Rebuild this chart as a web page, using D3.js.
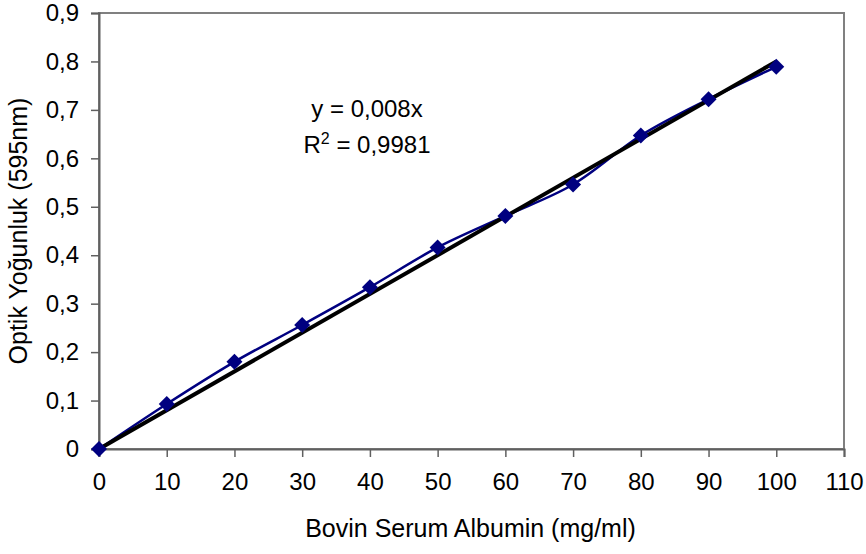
<!DOCTYPE html>
<html>
<head>
<meta charset="utf-8">
<script src="https://cdn.jsdelivr.net/npm/d3@7"></script>
<style>
  body { margin: 0; background: #fff; }
  text { font-family: "Liberation Sans", Arial, sans-serif; fill: #000; }
</style>
</head>
<body>
<script>
// concentration (mg/ml) and optical density readings
var conc = [0, 10, 20, 30, 40, 50, 60, 70, 80, 90, 100];
var od = [0, 0.093, 0.18, 0.256, 0.334, 0.416, 0.481, 0.546, 0.647, 0.722, 0.789];
var slope = 0.008;
var xTicks = [0, 10, 20, 30, 40, 50, 60, 70, 80, 90, 100, 110];
var yTicks = [0, 0.1, 0.2, 0.3, 0.4, 0.5, 0.6, 0.7, 0.8, 0.9];

var margin = {top: 13, right: 22, bottom: 105, left: 99},
    width = 866 - margin.left - margin.right,
    height = 554 - margin.top - margin.bottom;

var svg = d3.select("body")
    .append("svg")
    .attr("width", 866)
    .attr("height", 554)
    .append("g")
    .attr("transform", "translate(" + margin.left + "," + margin.top + ")");

var x = d3.scaleLinear().domain([0, 110]).range([0, width]);
var y = d3.scaleLinear().domain([0, 0.9]).range([height, 0]);

var fmt = function(d) { return String(+d.toFixed(1)).replace(".", ","); };

// plot area border
svg.append("rect")
    .attr("x", 0).attr("y", 0)
    .attr("width", width).attr("height", height)
    .attr("fill", "none")
    .attr("stroke", "#808080")
    .attr("stroke-width", 2);

var xAxis = svg.append("g")
    .attr("transform", "translate(0," + height + ")")
    .call(d3.axisBottom(x).tickValues(xTicks).tickSize(8).tickPadding(16).tickFormat(fmt));
var yAxis = svg.append("g")
    .call(d3.axisLeft(y).tickValues(yTicks).tickSize(8).tickPadding(12).tickFormat(fmt));

[xAxis, yAxis].forEach(function(a) {
    a.select(".domain").attr("stroke", "#606060").attr("stroke-width", 2);
    a.selectAll(".tick line").attr("stroke", "#606060").attr("stroke-width", 1.5);
    a.selectAll("text").style("font-size", "24px").attr("fill", "#000");
});

// smoothed data line
svg.append("path")
    .datum(conc.map(function(c, i) { return [c, od[i]]; }))
    .attr("fill", "none")
    .attr("stroke", "#000080")
    .attr("stroke-width", 2.5)
    .attr("d", d3.line()
        .curve(d3.curveCatmullRom.alpha(0.5))
        .x(function(d) { return x(d[0]); })
        .y(function(d) { return y(d[1]); }));

// linear trendline
svg.append("line")
    .attr("x1", x(0)).attr("y1", y(0))
    .attr("x2", x(100)).attr("y2", y(slope * 100))
    .attr("stroke", "#000")
    .attr("stroke-width", 4);

// diamond markers
svg.selectAll("path.marker")
    .data(conc)
    .enter()
    .append("path")
    .attr("class", "marker")
    .attr("d", "M0,-8L8,0L0,8L-8,0Z")
    .attr("fill", "#000080")
    .attr("transform", function(d, i) { return "translate(" + x(d) + "," + y(od[i]) + ")"; });

// equation
var eq = svg.append("g").attr("text-anchor", "middle").style("font-size", "24px");
eq.append("text").attr("x", 268).attr("y", 104).text("y = 0,008x");
var r2 = eq.append("text").attr("x", 268).attr("y", 140);
r2.append("tspan").text("R");
r2.append("tspan").attr("dy", -9).style("font-size", "16px").text("2");
r2.append("tspan").attr("dy", 9).text(" = 0,9981");

svg.append("text")
    .attr("text-anchor", "middle")
    .attr("x", width / 2 - 1)
    .attr("y", height + 88)
    .style("font-size", "25px")
    .text("Bovin Serum Albumin (mg/ml)");

svg.append("text")
    .attr("text-anchor", "middle")
    .attr("transform", "translate(-72," + (height / 2) + ") rotate(-90)")
    .style("font-size", "25px")
    .text("Optik Yoğunluk (595nm)");
</script>
</body>
</html>
